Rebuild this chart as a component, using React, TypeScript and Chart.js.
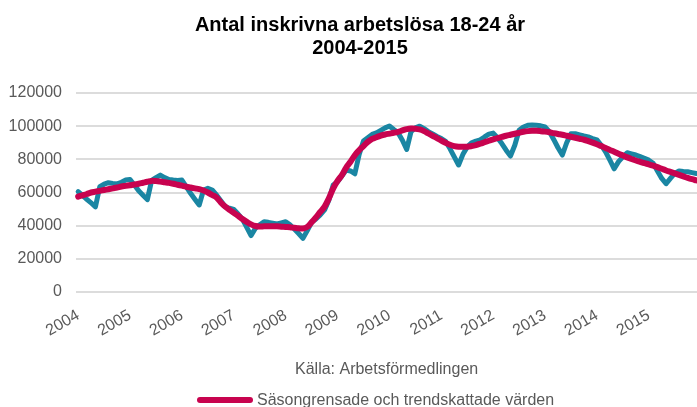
import React, { useEffect, useRef } from 'react';
import { Chart, registerables } from 'chart.js';

Chart.register(...registerables);

const titleLines = ['Antal inskrivna arbetslösa 18-24 år', '2004-2015'];
const sourceText = 'Källa: Arbetsförmedlingen';
const legendLabel = 'Säsongrensade och trendskattade värden';
const actualLabel = 'Faktiska värden';

const years = ['2004', '2005', '2006', '2007', '2008', '2009', '2010', '2011', '2012', '2013', '2014', '2015'];
const months = ['jan', 'feb', 'mar', 'apr', 'maj', 'jun', 'jul', 'aug', 'sep', 'okt', 'nov', 'dec'];

// Monthly registered unemployed 18-24 (actual values)
const actual2004 = [60500, 58200, 55900, 53700, 51400, 63500, 65000, 65900, 65500, 65200, 66200, 67500];
const actual2005 = [67900, 64500, 61000, 58400, 55700, 67300, 69000, 70500, 69000, 67800, 67500, 67300];
const actual2006 = [67500, 63500, 59500, 56000, 52500, 61500, 62500, 61500, 58500, 55000, 51500, 50500];
const actual2007 = [49800, 47000, 44000, 39000, 34000, 38500, 40500, 42300, 42000, 41500, 41000, 41700];
const actual2008 = [42400, 40500, 38000, 35300, 32400, 37000, 42000, 44000, 46500, 49500, 55500, 64500];
const actual2009 = [66500, 70000, 73600, 73000, 71300, 83000, 91000, 93000, 95000, 96000, 97500, 99000];
const actual2010 = [100100, 98000, 96000, 91500, 86000, 96700, 99000, 100000, 98500, 96700, 95300, 93800];
const actual2011 = [92500, 90800, 86500, 81500, 76600, 83000, 87500, 90000, 91000, 91700, 93500, 95200];
const actual2012 = [95800, 93000, 89500, 85500, 82000, 88500, 97500, 99500, 100500, 100700, 100500, 100200];
const actual2013 = [99500, 96700, 92000, 87000, 82600, 90000, 95500, 95500, 94800, 94100, 93500, 92500];
const actual2014 = [91700, 88500, 84500, 79500, 74300, 78600, 81500, 84000, 83300, 82600, 81600, 80600];
const actual2015 = [79500, 77600, 73000, 68500, 65300, 68500, 71500, 73000, 72700, 72500, 72000, 71500];

// Seasonally adjusted and trend values
const trend2004 = [57500, 58300, 59100, 60000, 60500, 61000, 61500, 62000, 62500, 63000, 63600, 64000];
const trend2005 = [64400, 64800, 65300, 65900, 66500, 67000, 66900, 66600, 66200, 65800, 65300, 64700];
const trend2006 = [64100, 63500, 63000, 62500, 62000, 61200, 60000, 58500, 57000, 54000, 51500, 49500];
const trend2007 = [47800, 46000, 44000, 42300, 40800, 39800, 39500, 39600, 39700, 39700, 39600, 39400];
const trend2008 = [39200, 39000, 38700, 38400, 38300, 39300, 42000, 45000, 48300, 51500, 56500, 62500];
const trend2009 = [67000, 70500, 75000, 78500, 82500, 85500, 88000, 90500, 92300, 93300, 94300, 95000];
const trend2010 = [95500, 96000, 96600, 97400, 98200, 98600, 98500, 98000, 97000, 95600, 94200, 92800];
const trend2011 = [91300, 90000, 88800, 88000, 87600, 87600, 87600, 88000, 88600, 89400, 90300, 91200];
const trend2012 = [92000, 92800, 93500, 94200, 94800, 95400, 96000, 96600, 97000, 97200, 97200, 97000];
const trend2013 = [96700, 96300, 95800, 95300, 94800, 94200, 93600, 93000, 92400, 91800, 91000, 90100];
const trend2014 = [89100, 88000, 86900, 85700, 84600, 83400, 82300, 81200, 80200, 79300, 78500, 77700];
const trend2015 = [77000, 76200, 75300, 74300, 73300, 72400, 71500, 70600, 69700, 68800, 68000, 67300];

const yMin = 0;
const yMax = 120000;
const yStep = 20000;

const actual = [
  ...actual2004, ...actual2005, ...actual2006, ...actual2007, ...actual2008, ...actual2009,
  ...actual2010, ...actual2011, ...actual2012, ...actual2013, ...actual2014, ...actual2015,
];
const trend = [
  ...trend2004, ...trend2005, ...trend2006, ...trend2007, ...trend2008, ...trend2009,
  ...trend2010, ...trend2011, ...trend2012, ...trend2013, ...trend2014, ...trend2015,
];
const labels = years.flatMap((y) => months.map((m) => `${m} ${y}`));

const TEAL = '#1a86a3';
const CRIMSON = '#c8034f';
const GREY_TEXT = '#595959';
const FONT = '"Liberation Sans", Arial, sans-serif';

const W = 720;
const H = 420;

const textPlugin = {
  id: 'textPlugin',
  afterDraw(chart: any) {
    const ctx = chart.ctx;
    ctx.save();
    ctx.fillStyle = '#000000';
    ctx.font = `bold 20px ${FONT}`;
    ctx.textAlign = 'center';
    ctx.textBaseline = 'middle';
    ctx.fillText(titleLines[0], 360, 25);
    ctx.fillText(titleLines[1], 360, 48);

    ctx.fillStyle = GREY_TEXT;
    ctx.font = `16px ${FONT}`;
    ctx.textAlign = 'left';
    ctx.fillText(sourceText, 295, 370);

    ctx.strokeStyle = CRIMSON;
    ctx.lineWidth = 6;
    ctx.lineCap = 'round';
    ctx.beginPath();
    ctx.moveTo(200, 400);
    ctx.lineTo(250, 400);
    ctx.stroke();
    ctx.fillText(legendLabel, 257, 401);
    ctx.restore();
  },
};

export default function App() {
  const ref = useRef<HTMLCanvasElement | null>(null);

  useEffect(() => {
    if (!ref.current) return;
    const chart = new Chart(ref.current, {
      type: 'line',
      data: {
        labels,
        datasets: [
          {
            label: actualLabel,
            data: actual,
            borderColor: TEAL,
            backgroundColor: TEAL,
            borderWidth: 5,
            pointRadius: 0,
            tension: 0,
            borderJoinStyle: 'round',
            borderCapStyle: 'round',
            order: 2,
          },
          {
            label: legendLabel,
            data: trend,
            borderColor: CRIMSON,
            backgroundColor: CRIMSON,
            borderWidth: 6,
            pointRadius: 0,
            tension: 0.4,
            borderJoinStyle: 'round',
            borderCapStyle: 'round',
            order: 1,
          },
        ],
      },
      options: {
        responsive: false,
        animation: false,
        layout: { padding: { top: 93, left: 0, right: 13, bottom: 0 } },
        plugins: {
          legend: { display: false },
          title: { display: false },
          tooltip: { enabled: false },
        },
        scales: {
          x: {
            type: 'category',
            offset: true,
            grid: { display: false, drawTicks: false },
            border: { display: false },
            ticks: {
              autoSkip: false,
              minRotation: 30,
              maxRotation: 30,
              padding: 14,
              color: GREY_TEXT,
              font: { family: FONT, size: 16 },
              callback: (_v: any, i: number) => (i % 12 === 0 ? years[i / 12] : ''),
            },
            afterFit: (scale: any) => {
              scale.height = H - 292;
            },
          },
          y: {
            min: yMin,
            max: yMax,
            grid: { color: '#dcdcdc', lineWidth: 2, drawTicks: false },
            border: { display: false },
            ticks: {
              stepSize: yStep,
              padding: 14,
              color: GREY_TEXT,
              font: { family: FONT, size: 16 },
              callback: (v: any) => String(v),
            },
            afterFit: (scale: any) => {
              scale.width = 76;
            },
          },
        },
      },
      plugins: [textPlugin],
    });
    return () => chart.destroy();
  }, []);

  return (
    <div style={{ position: 'fixed', left: 0, top: 0, width: 697, height: 407, overflow: 'hidden', background: '#fff' }}>
      <canvas ref={ref} width={W} height={H} style={{ width: W, height: H, display: 'block' }} />
    </div>
  );
}
